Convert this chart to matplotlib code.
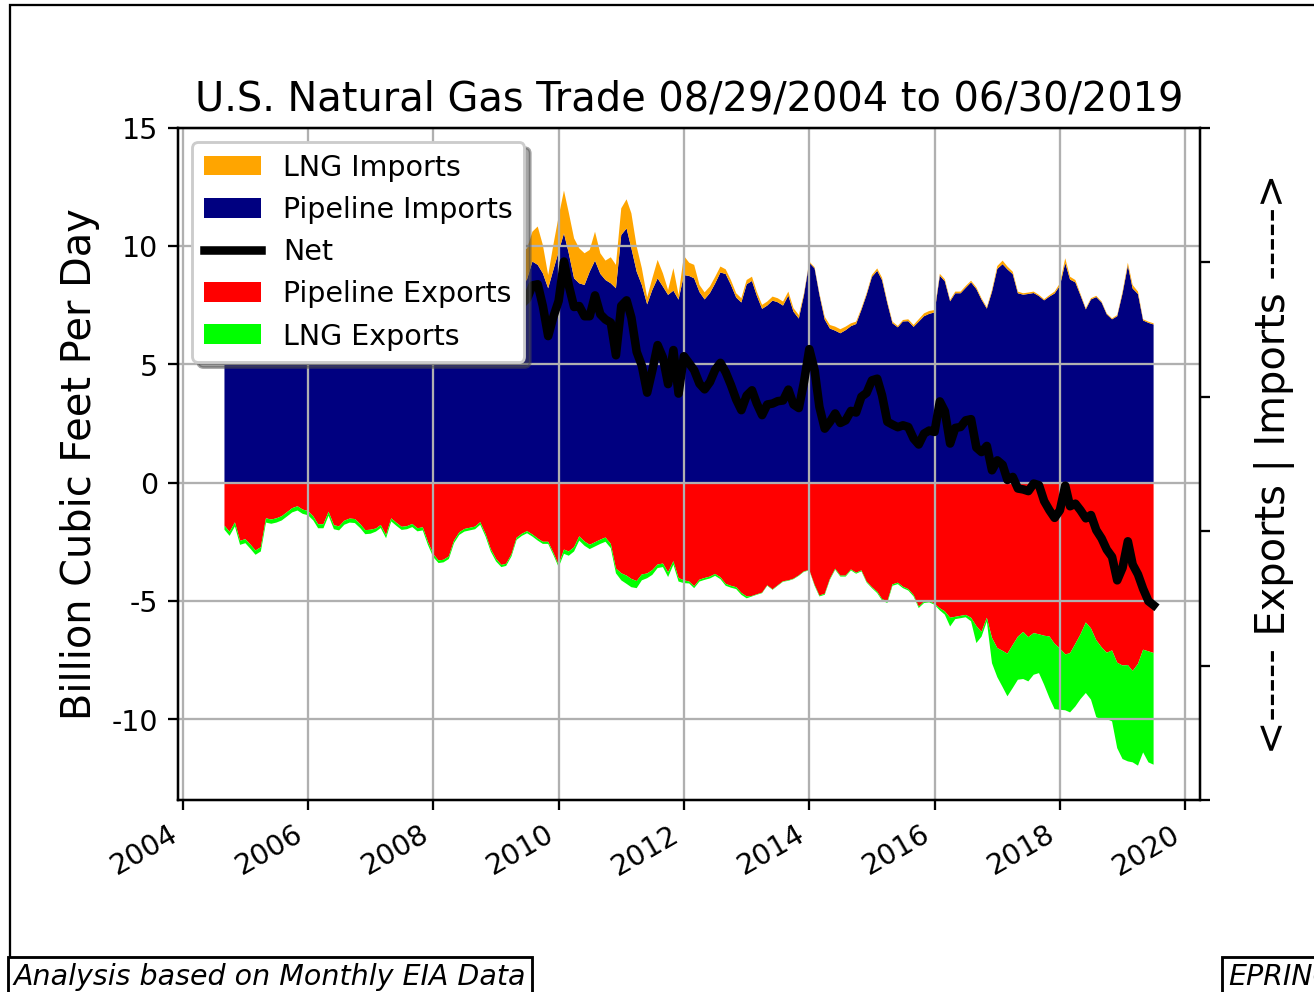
import numpy as np
import pandas as pd
import matplotlib
matplotlib.use("Agg")
import matplotlib.pyplot as plt
import matplotlib.dates as mdates
from matplotlib.patches import Patch, Rectangle
from matplotlib.lines import Line2D

plt.rcParams["axes.unicode_minus"] = False

# -------------------------------
# Monthly data, Aug 2004 - Jun 2019 (Bcf/d)
# -------------------------------
dates = pd.date_range("2004-08-31", "2019-06-30", freq="ME")

pipe_imports = [
    9.0, 9.1, 9.3, 9.6, 10.2,                                               # 2004
    10.3, 10.0, 9.6, 9.2, 9.0, 9.1, 9.4, 9.6, 9.3, 9.5, 9.9, 10.4,          # 2005
    10.1, 10.2, 9.6, 9.3, 9.2, 9.2, 9.5, 9.6, 9.3, 9.2, 9.6, 10.2,          # 2006
    10.6, 10.8, 10.3, 9.9, 9.8, 9.6, 9.9, 10.0, 9.7, 9.5, 9.8, 10.4,        # 2007
    10.6, 10.5, 10.0, 9.6, 9.2, 9.1, 9.2, 9.3, 9.0, 8.8, 9.2, 9.9,          # 2008
    10.2, 9.8, 9.0, 8.5, 8.3, 8.6, 9.35, 9.21, 8.85, 8.22, 8.99, 9.77,      # 2009
    10.54, 9.70, 8.64, 8.43, 8.36, 8.92, 9.39, 8.83, 8.57, 8.43, 8.22, 10.47,  # 2010
    10.75, 9.91, 8.92, 8.36, 7.54, 8.15, 8.64, 8.29, 7.94, 8.12, 7.74, 8.78,   # 2011
    8.74, 8.64, 8.06, 7.75, 8.02, 8.42, 8.89, 8.82, 8.37, 7.83, 7.62, 8.39,    # 2012
    8.53, 7.91, 7.35, 7.49, 7.70, 7.63, 7.49, 7.91, 7.23, 6.94, 7.93, 9.30,    # 2013
    9.06, 7.95, 6.90, 6.52, 6.43, 6.32, 6.45, 6.62, 6.71, 7.31, 7.94, 8.70,    # 2014
    8.96, 8.57, 7.59, 6.74, 6.57, 6.82, 6.83, 6.59, 6.81, 7.04, 7.14, 7.20,    # 2015
    8.75, 8.52, 7.67, 8.01, 8.01, 8.24, 8.47, 8.19, 7.74, 7.36, 8.07, 9.04,    # 2016
    9.24, 9.02, 8.82, 8.01, 7.95, 7.98, 8.02, 7.89, 7.71, 7.87, 8.00, 8.33,    # 2017
    9.29, 8.59, 8.47, 7.92, 7.33, 7.75, 7.85, 7.62, 7.12, 6.91, 7.04, 8.00,    # 2018
    9.18, 8.21, 7.98, 6.86, 6.76, 6.69,                                        # 2019
]

lng_imports = [
    1.8, 1.6, 1.5, 1.7, 1.8,
    1.6, 1.7, 1.8, 1.9, 1.7, 1.6, 1.8, 1.7, 1.4, 1.5, 1.6, 1.8,
    1.7, 1.6, 1.4, 1.5, 1.8, 1.8, 1.7, 1.5, 1.4, 1.3, 1.3, 1.5,
    1.8, 2.2, 2.6, 3.1, 3.0, 2.7, 2.4, 1.9, 1.4, 1.2, 1.1, 1.0,
    1.0, 0.9, 0.9, 0.8, 0.9, 1.2, 1.1, 1.0, 0.9, 0.8, 0.9, 1.0,
    1.1, 1.2, 1.3, 1.4, 1.5, 1.3, 1.26, 1.62, 1.20, 0.56, 1.06, 1.48,
    1.81, 1.72, 1.69, 1.48, 1.34, 0.92, 1.22, 0.87, 0.82, 1.10, 0.99, 1.13,
    1.23, 1.48, 1.06, 0.71, 0.30, 0.49, 0.78, 0.56, 0.21, 0.95, 0.20, 0.81,
    0.56, 0.57, 0.30, 0.30, 0.28, 0.28, 0.25, 0.20, 0.20, 0.18, 0.18, 0.18,
    0.18, 0.17, 0.17, 0.17, 0.17, 0.17, 0.17, 0.17, 0.15, 0.15, 0.08, 0.05,
    0.05, 0.06, 0.12, 0.15, 0.17, 0.17, 0.15, 0.12, 0.10, 0.07, 0.07, 0.08,
    0.10, 0.10, 0.07, 0.07, 0.06, 0.06, 0.08, 0.08, 0.10, 0.12, 0.12, 0.10,
    0.08, 0.08, 0.06, 0.07, 0.07, 0.08, 0.07, 0.07, 0.06, 0.06, 0.08, 0.12,
    0.15, 0.12, 0.10, 0.07, 0.06, 0.06, 0.06, 0.05, 0.05, 0.06, 0.08, 0.10,
    0.20, 0.12, 0.10, 0.06, 0.05, 0.05, 0.05, 0.04, 0.04, 0.04, 0.05, 0.08,
    0.12, 0.15, 0.10, 0.05, 0.05, 0.05,
]

pipe_exports = [
    1.81, 2.07, 1.67, 2.45, 2.38,
    2.62, 2.86, 2.72, 1.50, 1.55, 1.50, 1.41, 1.24, 1.07, 0.99, 1.13, 1.19,
    1.42, 1.75, 1.75, 1.22, 1.79, 1.84, 1.60, 1.51, 1.53, 1.74, 2.00, 1.98,
    1.93, 1.78, 2.21, 1.50, 1.69, 1.86, 1.83, 1.74, 1.92, 1.88, 2.49, 3.01,
    3.28, 3.25, 3.11, 2.44, 2.09, 1.95, 1.90, 1.85, 1.66, 2.16, 2.79, 3.21,
    3.47, 3.42, 3.02, 2.32, 2.15, 2.04, 2.18, 2.35, 2.49, 2.49, 2.95, 3.47,
    2.82, 2.90, 2.72, 2.26, 2.48, 2.62, 2.51, 2.40, 2.31, 2.58, 3.62, 3.82,
    3.92, 4.06, 4.15, 3.87, 3.83, 3.69, 3.45, 3.41, 3.78, 3.31, 4.02, 4.12,
    4.17, 4.37, 4.09, 4.02, 3.96, 3.85, 3.99, 4.27, 4.35, 4.41, 4.65, 4.80,
    4.78, 4.71, 4.64, 4.33, 4.50, 4.33, 4.16, 4.12, 4.05, 3.91, 3.74, 3.68,
    4.31, 4.76, 4.69, 4.06, 3.63, 3.92, 3.92, 3.66, 3.80, 3.70, 4.17, 4.41,
    4.60, 4.91, 5.02, 4.29, 4.22, 4.39, 4.49, 4.74, 5.23, 5.02, 4.99, 5.11,
    5.30, 5.43, 5.70, 5.66, 5.62, 5.58, 5.70, 6.05, 6.30, 5.70, 6.55, 6.98,
    7.10, 7.22, 6.85, 6.50, 6.30, 6.52, 6.35, 6.40, 6.46, 6.49, 6.80, 7.00,
    7.25, 7.20, 6.80, 6.40, 5.90, 6.15, 6.65, 6.95, 7.18, 7.08, 7.60, 7.72,
    7.70, 7.95, 7.65, 7.05, 7.12, 7.19,
]

lng_exports = [
    0.17, 0.17, 0.17, 0.17, 0.17,
    0.18, 0.18, 0.18, 0.18, 0.18, 0.18, 0.18, 0.18, 0.18, 0.18, 0.18, 0.18,
    0.17, 0.17, 0.17, 0.17, 0.17, 0.17, 0.17, 0.17, 0.17, 0.17, 0.17, 0.17,
    0.13, 0.13, 0.13, 0.13, 0.13, 0.13, 0.13, 0.13, 0.13, 0.13, 0.13, 0.13,
    0.11, 0.11, 0.11, 0.11, 0.11, 0.11, 0.11, 0.11, 0.11, 0.11, 0.11, 0.11,
    0.09, 0.09, 0.09, 0.09, 0.09, 0.09, 0.09, 0.09, 0.09, 0.09, 0.09, 0.09,
    0.18, 0.18, 0.18, 0.18, 0.18, 0.18, 0.18, 0.18, 0.18, 0.18, 0.20, 0.30,
    0.35, 0.35, 0.30, 0.25, 0.20, 0.20, 0.15, 0.15, 0.20, 0.15, 0.15, 0.12,
    0.08, 0.08, 0.08, 0.08, 0.08, 0.08, 0.08, 0.08, 0.08, 0.08, 0.08, 0.08,
    0.02, 0.02, 0.02, 0.02, 0.02, 0.02, 0.02, 0.02, 0.02, 0.02, 0.02, 0.02,
    0.04, 0.04, 0.04, 0.04, 0.04, 0.04, 0.04, 0.04, 0.04, 0.04, 0.04, 0.04,
    0.06, 0.06, 0.06, 0.06, 0.06, 0.06, 0.06, 0.06, 0.06, 0.06, 0.06, 0.04,
    0.09, 0.14, 0.37, 0.10, 0.10, 0.10, 0.15, 0.72, 0.20, 0.16, 1.07, 1.23,
    1.53, 1.80, 1.82, 1.82, 1.99, 1.87, 1.76, 1.64, 2.07, 2.60, 2.76, 2.59,
    2.36, 2.50, 2.65, 2.74, 2.98, 3.01, 3.25, 3.06, 2.80, 3.00, 3.61, 3.95,
    4.07, 3.86, 4.30, 4.34, 4.69, 4.72,
]

pipe_imports = np.array(pipe_imports)
lng_imports = np.array(lng_imports)
pipe_exports = np.array(pipe_exports)
lng_exports = np.array(lng_exports)
net = pipe_imports + lng_imports - pipe_exports - lng_exports

# -------------------------------
# Plot
# -------------------------------
fig = plt.figure(figsize=(6.41, 4.84), dpi=205)
ax = fig.add_axes([178 / 1314, 192 / 992, 1022 / 1314, 672 / 992])

ax.stackplot(dates, pipe_imports, lng_imports, colors=["navy", "orange"])
ax.stackplot(dates, -pipe_exports, -lng_exports, colors=["red", "lime"])
ax.plot(dates, net, color="black", linewidth=3)

ax.set_ylim(-13.4, 15)
ax.grid(True)
ax.xaxis.set_major_locator(mdates.YearLocator(2))
ax.xaxis.set_major_formatter(mdates.DateFormatter("%Y"))
for lbl in ax.get_xticklabels():
    lbl.set_rotation(30)
    lbl.set_ha("right")

ax.set_ylabel("Billion Cubic Feet Per Day", fontsize=14)
ax.set_title("U.S. Natural Gas Trade 08/29/2004 to 06/30/2019", fontsize=14)

handles = [
    Patch(facecolor="orange", label="LNG Imports"),
    Patch(facecolor="navy", label="Pipeline Imports"),
    Line2D([], [], color="black", linewidth=3, label="Net"),
    Patch(facecolor="red", label="Pipeline Exports"),
    Patch(facecolor="lime", label="LNG Exports"),
]

ax2 = ax.twinx()
ax2.set_yticklabels([])
ax2.set_ylabel("<----- Exports | Imports ----->", fontsize=14, labelpad=12)
ax2.legend(handles=handles, loc="upper left", shadow=True, framealpha=1, fontsize=10)

fig.text(14 / 1314, 7 / 992, "Analysis based on Monthly EIA Data", fontsize=10,
         style="italic", ha="left", va="baseline",
         bbox=dict(boxstyle="square,pad=0.2", facecolor="white", edgecolor="black"))
fig.text(1228 / 1314, 7 / 992, "EPRINC", fontsize=10,
         style="italic", ha="left", va="baseline",
         bbox=dict(boxstyle="square,pad=0.2", facecolor="white", edgecolor="black"))

# figure frame (screenshot border)
fig.patches.append(Rectangle((10 / 1314, -0.5), 2, 0.5 + 1 - 5 / 992, fill=False,
                             edgecolor="black", linewidth=0.8,
                             transform=fig.transFigure, figure=fig))

fig.savefig("out.png", dpi=205)
